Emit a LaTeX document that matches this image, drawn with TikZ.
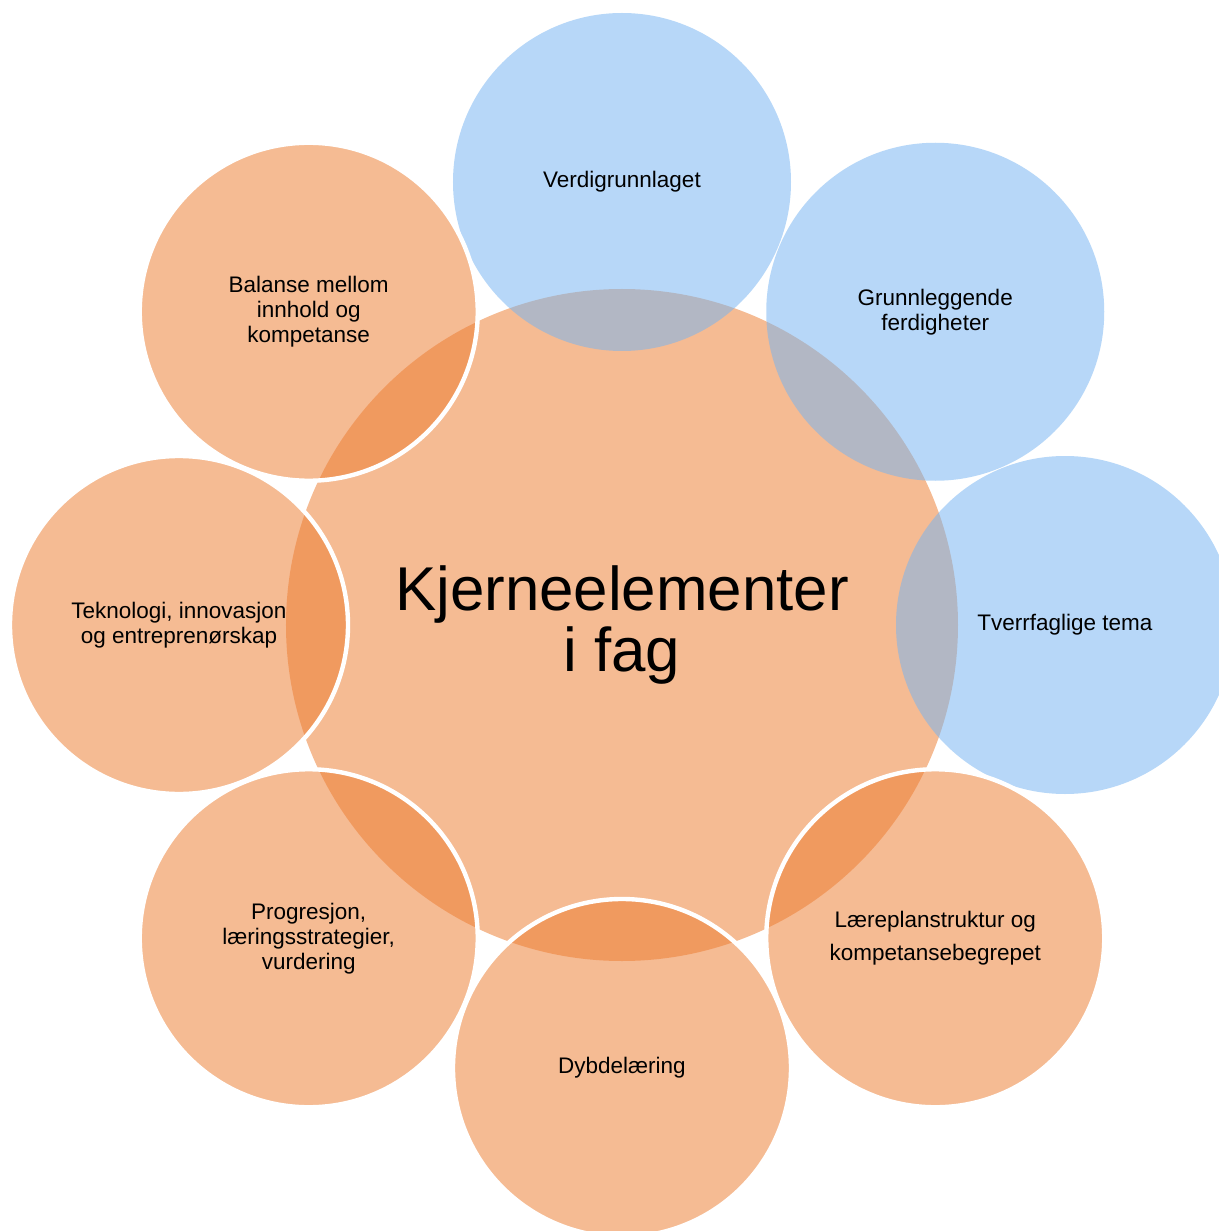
\documentclass[tikz,border=0pt]{standalone}
\usepackage{fontspec}
\setmainfont{Liberation Sans}
\usepackage{xcolor}
\usepackage{tikz}
\usetikzlibrary{positioning}
\definecolor{oransje}{RGB}{237,125,49}
\definecolor{blaa}{RGB}{118,180,242}
\tikzstyle{kjerne} = [circle, minimum size=13.44cm, inner sep=0pt, fill=oransje, fill opacity=0.52, text opacity=1, align=center, font=\fontsize{35.2}{35}\selectfont]
\tikzstyle{blaasirkel} = [circle, minimum size=6.76cm, inner sep=0pt, fill=blaa, fill opacity=0.52, text opacity=1, align=center, font=\fontsize{12.8}{14.2}\selectfont]
\tikzstyle{oransjesirkel} = [circle, minimum size=6.76cm, inner sep=0pt, fill=oransje, fill opacity=0.52, text opacity=1, draw=white, line width=2.5pt, align=center, font=\fontsize{12.8}{14.2}\selectfont]

\begin{document}
\begin{tikzpicture}
		\fill[white] (-12.44,-12.12) rectangle (11.92,12.5);
		\useasboundingbox (-12.44,-12.12) rectangle (11.92,12.5);
		%sentral sirkel
		\node[kjerne](kjerne) at (0,0){Kjerneelementer\\i fag};
		%blaa sirkler
		\node[blaasirkel](verdi) at (90:8.86cm){Verdigrunnlaget};
		\node[blaasirkel](grunn) at (45:8.86cm){Grunnleggende\\ferdigheter};
		\node[blaasirkel](tverr) at (0:8.86cm){Tverrfaglige tema};
		%oransje sirkler
		\node[oransjesirkel](laere) at (-45:8.86cm){Læreplanstruktur og\\[5pt]kompetansebegrepet};
		\node[oransjesirkel](dybde) at (-90:8.86cm){Dybdelæring};
		\node[oransjesirkel](progr) at (-135:8.86cm){Progresjon,\\læringsstrategier,\\vurdering};
		\node[oransjesirkel](tekn) at (180:8.86cm){Teknologi, innovasjon\\og entreprenørskap};
		\node[oransjesirkel](balanse) at (135:8.86cm){Balanse mellom\\innhold og\\kompetanse};

	\end{tikzpicture}
\end{document}
